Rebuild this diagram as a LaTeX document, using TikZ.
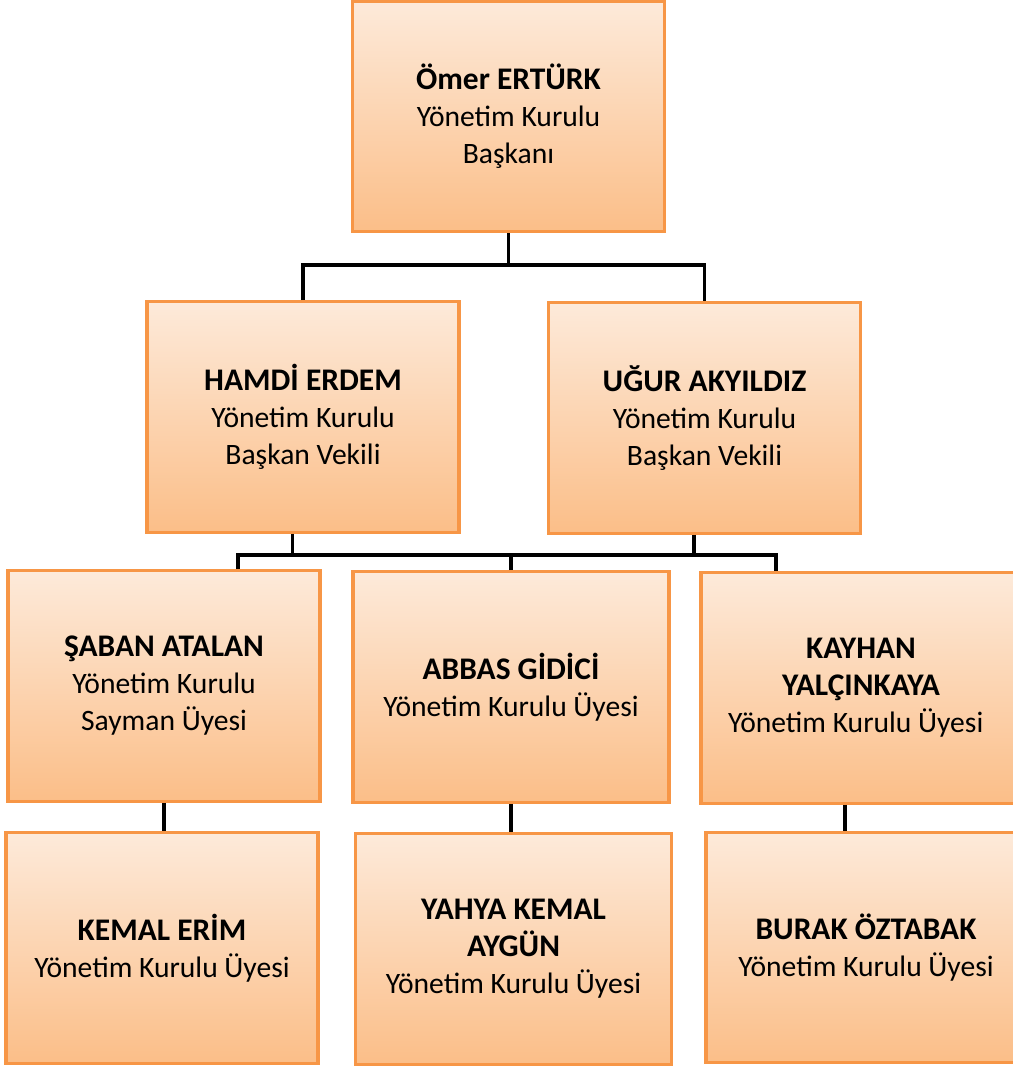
\documentclass[tikz,border=0pt]{standalone}
\usepackage{fontspec}
\setmainfont{Carlito}
\usepackage{xcolor}
\usepackage{tikz}

\definecolor{boxline}{HTML}{F79646}
\definecolor{boxtop}{HTML}{FDEADA}
\definecolor{boxbottom}{HTML}{FBBE88}

\newcommand{\name}[1]{{\fontsize{23.6pt}{27.75pt}\selectfont\bfseries #1}}

\begin{document}
\begin{tikzpicture}[x=0.75pt,y=-0.75pt,
		member/.style={draw=boxline,line width=2.4pt,top color=boxtop,bottom color=boxbottom,
			minimum width=234pt,minimum height=173pt,inner sep=0pt,align=center,
			font=\fontsize{22.2pt}{27.75pt}\selectfont},
		conn/.style={draw=black,line width=2.5pt}]
		\useasboundingbox (0,0) rectangle (1013,1068);
		\node[member] (omer)   at (508.5,116.5) {\name{Ömer ERTÜRK}\\Yönetim Kurulu\\Başkanı};
		\node[member] (hamdi)  at (303,417)     {\name{HAMDİ ERDEM}\\Yönetim Kurulu\\Başkan Vekili};
		\node[member] (ugur)   at (704.5,418)   {\name{UĞUR AKYILDIZ}\\Yönetim Kurulu\\Başkan Vekili};
		\node[member] (saban)  at (164,686)     {\name{ŞABAN ATALAN}\\Yönetim Kurulu\\Sayman Üyesi};
		\node[member,minimum width=237pt] (abbas) at (511,687) {\name{ABBAS GİDİCİ}\\Yönetim Kurulu Üyesi};
		\node[member,minimum width=240pt] (kayhan) at (861,688) {\name{KAYHAN}\\\name{YALÇINKAYA}\\\hspace*{-8pt}Yönetim Kurulu Üyesi};
		\node[member] (kemal)  at (162,948)     {\name{KEMAL ERİM}\\Yönetim Kurulu Üyesi};
		\node[member,minimum width=237pt] (yahya) at (513.5,949) {\name{YAHYA KEMAL}\\\name{AYGÜN}\\Yönetim Kurulu Üyesi};
		\node[member,minimum width=240pt] (burak) at (866,947.5) {\name{BURAK ÖZTABAK}\\Yönetim Kurulu Üyesi};
		\coordinate (bar1) at (505,265);
		\coordinate (bar2) at (509,555);
		\draw[conn] (omer.south) -- (omer.south |- bar1);
		\draw[conn] (hamdi.north) |- (bar1) -| (ugur.north);
		\draw[conn] ([xshift=-8pt]hamdi.south) -- ([xshift=-8pt]hamdi.south |- bar2);
		\draw[conn] ([xshift=-8pt]ugur.south) -- ([xshift=-8pt]ugur.south |- bar2);
		\draw[conn] ([xshift=55.5pt]saban.north) |- (bar2) -| ([xshift=-63.75pt]kayhan.north);
		\draw[conn] (abbas.north) -- (abbas.north |- bar2);
		\draw[conn] (saban.south) -- (saban.south |- kemal.north);
		\draw[conn] (abbas.south) -- (abbas.south |- yahya.north);
		\draw[conn] ([xshift=-12pt]kayhan.south) -- ([xshift=-12pt]kayhan.south |- burak.north);
	\end{tikzpicture}
\end{document}
